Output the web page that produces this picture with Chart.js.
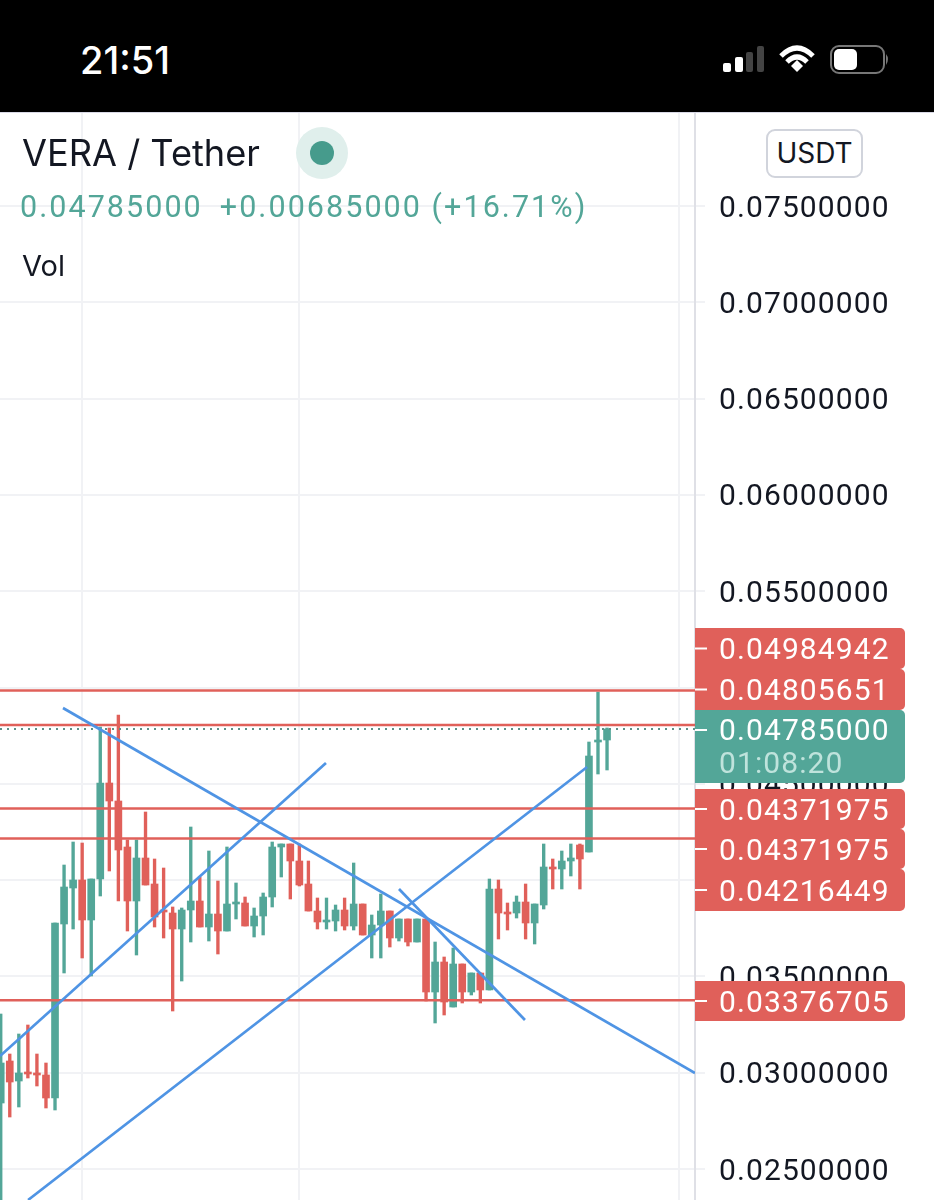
<!DOCTYPE html>
<html>
<head>
<meta charset="utf-8">
<title>VERA / Tether</title>
<script src="https://cdn.jsdelivr.net/npm/chart.js@4"></script>
<style>
  html, body { margin: 0; padding: 0; background: #fff; }
  body { width: 934px; height: 1200px; position: relative; overflow: hidden; font-family: Inter, sans-serif; }
  #statusbar { position: absolute; left: 0; top: 0; width: 934px; height: 112px; background: #000; }
  #clock { position: absolute; left: 80px; top: 38px; color: #fff; font-size: 38px; font-weight: 500; line-height: 44px; }
  #icons { position: absolute; left: 0; top: 0; }
  #wrap { position: absolute; left: 0; top: 113px; width: 934px; height: 1087px; }
  #sep { position: absolute; left: 0; top: 112px; width: 934px; height: 1px; background: #d9d9e6; }
  .txt { position: absolute; white-space: nowrap; }
  #title { left: 22px; top: 130px; font-size: 36.2px; line-height: 46px; color: #131722; }
  #quote { left: 20px; top: 188px; font-size: 30.5px; line-height: 38px; color: #53a698; font-family: Roboto, sans-serif; letter-spacing: 2.05px; }
  #quote span { margin-left: 17px; }
  #vol { left: 22px; top: 249px; font-size: 29px; line-height: 34px; color: #131722; }
  #halo { position: absolute; left: 296px; top: 127px; width: 52px; height: 52px; border-radius: 50%; background: #e0efec; }
  #dot { position: absolute; left: 310px; top: 141px; width: 24px; height: 24px; border-radius: 50%; background: #469b8c; }
  #usdt { position: absolute; left: 766px; top: 129px; width: 93px; height: 45px; border: 2px solid #d1d4dc; border-radius: 9px; background: #fff;
    text-align: center; font-size: 28px; line-height: 45px; color: #131722; }
</style>
</head>
<body>
<div id="wrap"><canvas id="chart" width="934" height="1087"></canvas></div>
<div id="statusbar">
  <div id="clock">21:51</div>
  <svg id="icons" width="934" height="112">
    <rect x="723" y="63" width="8" height="9" rx="2" fill="#fff"/>
    <rect x="735" y="57" width="8" height="15" rx="2" fill="#fff"/>
    <rect x="746" y="52" width="7" height="20" rx="2" fill="#444"/>
    <rect x="757" y="46" width="7" height="26" rx="2" fill="#444"/>
    <path d="M781 56 Q797 40 813 56" fill="none" stroke="#fff" stroke-width="5"/>
    <path d="M787 62 Q797 52 807 62" fill="none" stroke="#fff" stroke-width="5"/>
    <path d="M791 66 L797 60 L803 66 L797 72 Z" fill="#fff"/>
    <rect x="831" y="46" width="53" height="27" rx="8" fill="none" stroke="#777" stroke-width="2"/>
    <rect x="834" y="49" width="23" height="21" rx="5" fill="#fff"/>
    <path d="M886 54 Q890 59 886 65 Z" fill="#777"/>
  </svg>
</div>
<div id="sep"></div>
<div id="title" class="txt">VERA / Tether</div>
<div id="halo"></div>
<div id="dot"></div>
<div id="quote" class="txt">0.04785000<span>+0.00685000 (+16.71%)</span></div>
<div id="vol" class="txt">Vol</div>
<div id="usdt">USDT</div>

<script>
// candles, left to right
const opens = [.028428,.030609,.029570,.029986,.029986,.029882,.028688,.037722,.039591,.040006,.037930,.040058,.045043,.044108,.041720,.038916,.041149,.039799,.038449,.038293,.037462,.038449,.038916,.037566,.038241,.037358,.038760,.038812,.037618,.038137,.039124,.041720,.041876,.040993,.039799,.038397,.037826,.037878,.038449,.037618,.038760,.037151,.037670,.038397,.036995,.037982,.036787,.037982,.034191,.035749,.033413,.035645,.034191,.035178,.034295,.039539,.038293,.038293,.038864,.037774,.038708,.040681,.040578,.040993,.041824,.041460,.047171,.047275]
const highs = [.033049,.030972,.032011,.032478,.030972,.030505,.037774,.040785,.041979,.041927,.040058,.047950,.047898,.048573,.042083,.042083,.043537,.041097,.040629,.038605,.038553,.042758,.040162,.041512,.039954,.041720,.039851,.039124,.038553,.039331,.041979,.041876,.041876,.041876,.040993,.039072,.039072,.038708,.039072,.040889,.038760,.038189,.039280,.038397,.037982,.037982,.037982,.037982,.036787,.036009,.036476,.035645,.035178,.035178,.040058,.040006,.038812,.039176,.039799,.038760,.041876,.041097,.041512,.041876,.041876,.047171,.049767,.047898]
const lows = [.0225,.027701,.028221,.029726,.029311,.028169,.028065,.035178,.037462,.035957,.035022,.039176,.040474,.038916,.037358,.036112,.039747,.037566,.036995,.033205,.034762,.036787,.037566,.036839,.036164,.037358,.037982,.037618,.037047,.037151,.038605,.040162,.039020,.039695,.038397,.037462,.037462,.037358,.037410,.037410,.037151,.035957,.035957,.036528,.036839,.036580,.036787,.033724,.032582,.032997,.033413,.033620,.034036,.033620,.034295,.036943,.037410,.038033,.036943,.036684,.038501,.039539,.039539,.040214,.039539,.041460,.045510,.045718]
const closes = [.030505,.029518,.029986,.029934,.029882,.028688,.037774,.039643,.040006,.037930,.040058,.045043,.044108,.041564,.038916,.041149,.039747,.038085,.038345,.037462,.038449,.038916,.037566,.038241,.037358,.038760,.038812,.037618,.038137,.039124,.041720,.041876,.040993,.039747,.038397,.037826,.037878,.038449,.037618,.038760,.037151,.037670,.038397,.036995,.037982,.036787,.037982,.034191,.035749,.033672,.035645,.034191,.035178,.034295,.039539,.038293,.038241,.038864,.037774,.038760,.040681,.040578,.040993,.041149,.041097,.046444,.047223,.047846]

// drawn levels and the last price
const levels = [.04984942,.04805651,.04371975,.04216449,.03376705]
const lastPrice = .04785

// trend lines as [candle index, price] pairs
const trendA = [[6.88,.048937],[76.72,.029986]]
const trendB = [[-0.08,.030868],[35.94,.046081]]
const trendC = [[3.02,.023392],[64.8,.045873]]
const trendD = [[44.01,.039539],[57.93,.032738]]

const priceTicks = [.075,.07,.065,.06,.055,.05,.045,.04,.035,.03,.025]
const timeTicks = [9,33,75]
const plateLabels = ['0.04984942','0.04805651','0.04785000','0.04371975','0.04371975','0.04216449','0.03376705']
const countdown = '01:08:20'

const UP = '#53a698'
const DOWN = '#e0605a'
const BLUE = '#4f94e4'
const GRID = '#f1f2f5'
// lineHeight is only used to nudge the two-line tick label down to the grid line
const axisFont = { family: 'Roboto, sans-serif', size: 30, lineHeight: '6px' }

let xs = opens.map((_, i) => i)
let candleColors = opens.map((o, i) => closes[i] >= o ? UP : DOWN)

function linePoints(pairs) {
  return pairs.map(p => ({ x: p[0], y: p[1] }))
}

let datasets = []
levels.forEach(v => {
  datasets.push({ type: 'line', data: [{ x: -0.08, y: v }, { x: 76.72, y: v }], borderColor: DOWN, borderWidth: 2.5, pointRadius: 0, order: 3 })
})
datasets.push({ type: 'line', data: [{ x: -0.08, y: lastPrice }, { x: 76.72, y: lastPrice }], borderColor: '#5d8f88', borderWidth: 2, borderDash: [2, 5], pointRadius: 0, order: 3 })
;[trendA, trendB, trendC, trendD].forEach(t => {
  datasets.push({ type: 'line', data: linePoints(t), borderColor: BLUE, borderWidth: 2.7, pointRadius: 0, order: 2 })
})
datasets.push({
  type: 'bar', data: xs.map(i => ({ x: i, y: [lows[i], highs[i]] })),
  backgroundColor: candleColors, barThickness: 2.7, grouped: false, order: 6
})
datasets.push({
  type: 'bar', data: xs.map(i => ({ x: i, y: [opens[i], closes[i]] })),
  backgroundColor: candleColors, barThickness: 7, minBarLength: 2, grouped: false, order: 5
})

// the price tags on the right sit where the app pushed them, not on their level
const plateTops = [628, 669, 710, 789, 829, 869, 981].map(y => y - 113)
const plateHeights = [41, 41, 73, 40, 40, 42, 40]

const platesPlugin = {
  id: 'plates',
  beforeDraw(chart) {
    chart.ctx.letterSpacing = '1.1px'
  },
  afterDraw(chart) {
    let ctx = chart.ctx
    ctx.save()
    ctx.letterSpacing = '1.1px'
    ctx.font = '30px Roboto, sans-serif'
    ctx.textBaseline = 'middle'
    ctx.textAlign = 'left'
    plateLabels.forEach((txt, i) => {
      let top = plateTops[i]
      let h = plateHeights[i]
      let green = txt === '0.04785000'
      ctx.fillStyle = green ? UP : DOWN
      ctx.beginPath()
      ctx.roundRect(695, top, 210, h, [0, 5, 5, 0])
      ctx.fill()
      let mid = green ? top + 20 : top + h / 2
      ctx.fillStyle = '#fff'
      ctx.fillRect(695, mid - 1, 12, 2)
      ctx.fillText(txt, 719, green ? mid + 2 : mid + 3)
      if (green) {
        ctx.fillStyle = '#bfe3dc'
        ctx.fillText(countdown, 719, top + 55)
      }
    })
    ctx.restore()
  }
}

new Chart(document.getElementById('chart'), {
  type: 'bar',
  data: { datasets: datasets },
  plugins: [platesPlugin],
  options: {
    responsive: false,
    animation: false,
    layout: { padding: 0 },
    plugins: { legend: { display: false }, tooltip: { enabled: false } },
    scales: {
      x: {
        type: 'linear', offset: false, min: -0.08, max: 76.72,
        afterBuildTicks: s => { s.ticks = timeTicks.map(v => ({ value: v })) },
        ticks: { display: false },
        border: { display: false },
        grid: { offset: false, color: GRID, lineWidth: 2, drawTicks: false }
      },
      y: {
        position: 'right', min: .023392, max: .079829,
        afterBuildTicks: s => { s.ticks = priceTicks.map(v => ({ value: v })) },
        afterFit: s => {
          s.width = 239
          s.paddingTop = 0
          s.paddingBottom = 0
        },
        ticks: { color: '#131722', font: axisFont, padding: 14, autoSkip: false, callback: v => ['', v.toFixed(8)] },
        border: { color: '#dfe0e6', width: 2 },
        grid: { color: GRID, lineWidth: 2, tickLength: 10 }
      }
    }
  }
})
</script>
</body>
</html>
